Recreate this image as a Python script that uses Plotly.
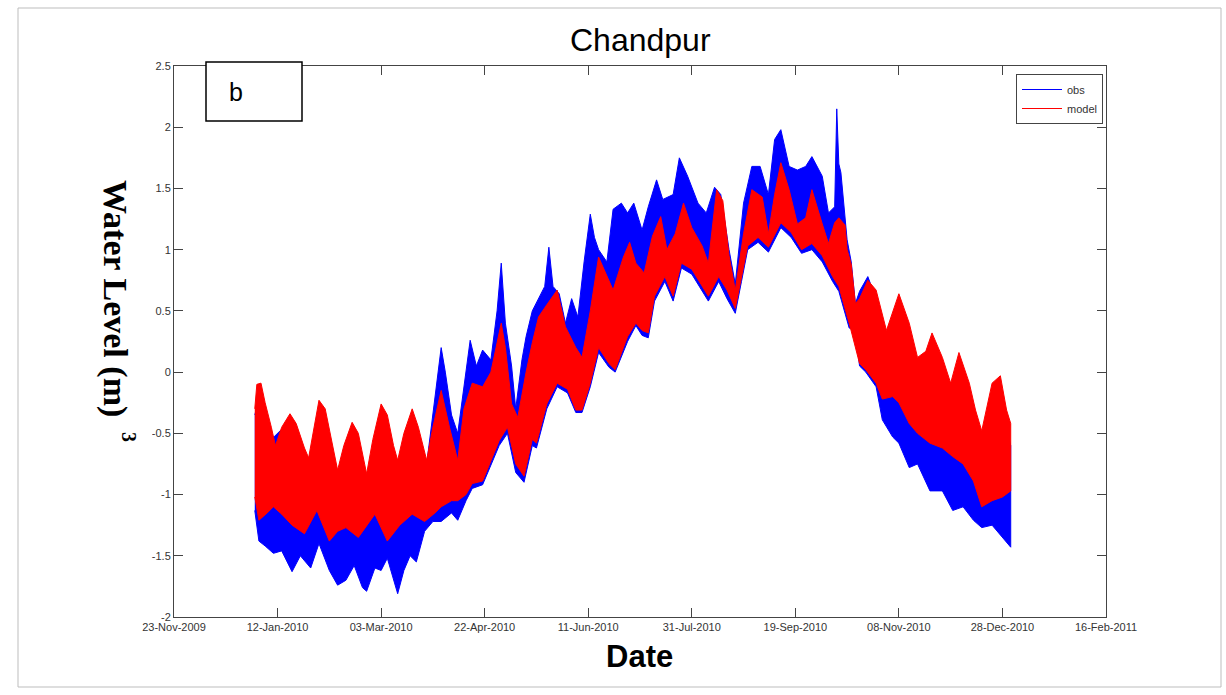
import datetime as dt
import plotly.graph_objects as go

# ---------------------------------------------------------------------------
# Chandpur water level (m), hourly record for 2010 shown as its tidal envelope.
# Days are counted from 1 Jan 2010.
# ---------------------------------------------------------------------------
START = dt.datetime(2010, 1, 1)

obs_high_day = [0, 3, 8, 17, 26, 31, 40, 47, 54, 61, 69, 76, 83, 88, 90, 92, 95, 98,
                101, 104, 107, 110, 114, 117, 119, 121, 124, 126, 129, 131, 134, 137,
                140, 142, 144, 147, 150, 153, 156, 159, 162, 164, 166, 170, 173, 177,
                180, 183, 187, 190, 194, 197, 202, 205, 209, 214, 218, 222, 225, 229,
                232, 236, 240, 244, 248, 251, 254, 258, 262, 266, 269, 274, 277, 280,
                281, 282, 283, 286, 288, 290, 292, 296, 300, 305, 311, 316, 320, 324,
                327, 332, 336, 340, 345, 348, 351, 356, 360, 363, 365]
obs_high = [-0.35, -0.15, -0.55, -0.40, -0.75, -0.30, -0.85, -0.45, -0.88, -0.30, -0.78,
            -0.35, -0.75, -0.10, 0.20, 0.00, -0.35, -0.50, -0.10, 0.26, 0.05, 0.18, 0.10,
            0.50, 0.89, 0.40, 0.05, -0.30, 0.10, 0.29, 0.50, 0.60, 0.70, 1.02, 0.70, 0.64,
            0.40, 0.60, 0.45, 0.90, 1.29, 1.10, 1.00, 0.90, 1.33, 1.38, 1.30, 1.38, 1.16,
            1.35, 1.57, 1.41, 1.45, 1.75, 1.60, 1.38, 1.30, 1.51, 1.45, 1.00, 0.72, 1.38,
            1.68, 1.68, 1.45, 1.90, 1.98, 1.68, 1.65, 1.68, 1.76, 1.60, 1.30, 1.35, 2.15,
            1.70, 1.63, 1.08, 0.90, 0.56, 0.66, 0.78, 0.60, 0.25, 0.50, 0.25, 0.00, 0.05,
            0.20, 0.00, -0.20, 0.05, -0.20, -0.45, -0.60, -0.25, -0.20, -0.45, -0.60]

obs_low_day = [0, 2, 5, 9, 13, 18, 22, 27, 31, 36, 40, 44, 48, 52, 54, 58, 61, 64, 69,
               72, 75, 78, 82, 86, 90, 95, 98, 102, 105, 110, 114, 118, 122, 126, 130,
               134, 136, 141, 146, 151, 155, 158, 162, 166, 171, 174, 180, 184, 187, 190,
               193, 198, 202, 206, 211, 216, 219, 224, 228, 232, 235, 238, 243, 248, 254,
               259, 264, 269, 274, 279, 282, 287, 290, 292, 295, 300, 303, 308, 311, 316,
               320, 326, 332, 337, 342, 347, 351, 356, 361, 365]
obs_low = [-1.13, -1.38, -1.42, -1.48, -1.46, -1.63, -1.50, -1.60, -1.40, -1.62, -1.74,
           -1.70, -1.58, -1.76, -1.79, -1.60, -1.62, -1.52, -1.81, -1.62, -1.50, -1.55,
           -1.30, -1.22, -1.22, -1.15, -1.21, -1.05, -0.95, -0.92, -0.76, -0.60, -0.50,
           -0.82, -0.90, -0.60, -0.62, -0.30, -0.12, -0.17, -0.33, -0.33, -0.12, 0.16,
           0.04, 0.00, 0.25, 0.38, 0.30, 0.28, 0.58, 0.74, 0.58, 0.85, 0.80, 0.66, 0.58,
           0.74, 0.60, 0.48, 0.74, 1.00, 1.06, 0.98, 1.18, 1.10, 0.97, 1.00, 0.90, 0.74,
           0.66, 0.36, 0.34, 0.05, 0.00, -0.12, -0.39, -0.53, -0.58, -0.78, -0.75, -0.97,
           -0.97, -1.13, -1.10, -1.21, -1.27, -1.25, -1.35, -1.43]

model_high_day = [0, 1, 3, 5, 8, 10, 13, 17, 20, 24, 26, 29, 31, 34, 37, 40, 43, 47, 50,
                  54, 57, 61, 64, 67, 69, 72, 76, 79, 83, 86, 90, 94, 98, 101, 105, 110,
                  114, 119, 121, 124, 127, 131, 134, 137, 141, 146, 150, 155, 158, 162,
                  166, 170, 173, 178, 181, 184, 188, 192, 196, 199, 203, 207, 211, 216,
                  219, 223, 226, 229, 232, 236, 240, 245, 248, 251, 254, 258, 262, 266,
                  269, 274, 277, 280, 282, 285, 286, 288, 290, 292, 296, 300, 305, 311,
                  316, 320, 324, 327, 332, 336, 340, 345, 348, 351, 356, 360, 363, 365]
model_high = [-0.30, -0.10, -0.09, -0.25, -0.45, -0.60, -0.45, -0.34, -0.42, -0.62, -0.70,
              -0.40, -0.23, -0.30, -0.55, -0.80, -0.60, -0.41, -0.50, -0.83, -0.55, -0.26,
              -0.35, -0.60, -0.72, -0.50, -0.30, -0.45, -0.72, -0.45, -0.15, -0.45, -0.72,
              -0.30, -0.09, -0.12, 0.00, 0.40, 0.20, -0.26, -0.37, 0.00, 0.24, 0.45, 0.55,
              0.67, 0.37, 0.20, 0.12, 0.50, 0.94, 0.79, 0.67, 0.94, 1.06, 0.89, 0.81, 1.11,
              1.27, 1.00, 1.13, 1.38, 1.18, 1.03, 0.89, 1.49, 1.40, 0.95, 0.67, 1.13, 1.49,
              1.43, 1.13, 1.45, 1.71, 1.49, 1.21, 1.26, 1.49, 1.21, 1.05, 1.22, 1.26, 1.20,
              1.00, 0.88, 0.56, 0.60, 0.75, 0.67, 0.34, 0.64, 0.40, 0.12, 0.17, 0.32, 0.12,
              -0.09, 0.16, -0.09, -0.31, -0.48, -0.09, -0.03, -0.31, -0.42]

model_low_day = [0, 2, 6, 9, 13, 18, 24, 30, 36, 40, 44, 50, 54, 58, 64, 70, 76, 82, 87,
                 90, 95, 98, 102, 105, 110, 114, 118, 122, 126, 130, 134, 136, 141, 146,
                 151, 155, 158, 162, 166, 171, 174, 180, 184, 187, 190, 193, 198, 202,
                 206, 211, 216, 219, 224, 228, 232, 235, 238, 243, 248, 254, 259, 264,
                 269, 274, 279, 282, 287, 292, 295, 300, 303, 308, 311, 316, 320, 326,
                 332, 337, 342, 347, 351, 356, 361, 365]
model_low = [-1.02, -1.21, -1.15, -1.10, -1.16, -1.25, -1.32, -1.13, -1.38, -1.30, -1.27,
             -1.35, -1.25, -1.16, -1.38, -1.25, -1.16, -1.22, -1.15, -1.10, -1.05, -1.05,
             -1.00, -0.91, -0.89, -0.72, -0.56, -0.45, -0.75, -0.85, -0.55, -0.58, -0.26,
             -0.09, -0.14, -0.31, -0.31, -0.09, 0.20, 0.07, 0.02, 0.29, 0.40, 0.34, 0.32,
             0.62, 0.78, 0.62, 0.89, 0.84, 0.70, 0.62, 0.78, 0.67, 0.52, 0.78, 1.03, 1.10,
             1.02, 1.22, 1.14, 1.00, 1.05, 0.95, 0.78, 0.70, 0.40, 0.07, 0.02, -0.09, -0.22,
             -0.20, -0.25, -0.42, -0.50, -0.58, -0.62, -0.69, -0.75, -0.89, -1.10, -1.05,
             -1.02, -0.97]

tick_dates = ["2009-11-23", "2010-01-12", "2010-03-03", "2010-04-22", "2010-06-11",
              "2010-07-31", "2010-09-19", "2010-11-08", "2010-12-28", "2011-02-16"]
y_ticks = [2.5, 2, 1.5, 1, 0.5, 0, -0.5, -1, -1.5, -2]
y_tick_text = ["2.5", "2", "1.5", "1", "0.5", "0", "-0.5", "-1", "-1.5", "-2"]

# ---------------------------------------------------------------------------
W, H = 1226, 695
L, R, T, B = 174, 1106, 66, 617          # plot-area edges in pixels


def px(x):
    return (x - L) / (R - L)


def py(y):
    return (B - y) / (B - T)


def to_dates(days):
    return [START + dt.timedelta(days=d) for d in days]


def band(hi_day, hi, lo_day, lo, colour):
    xs = to_dates(hi_day) + to_dates(lo_day)[::-1]
    ys = list(hi) + list(lo)[::-1]
    return go.Scatter(x=xs, y=ys, mode="lines", fill="toself", fillcolor=colour,
                      line=dict(color=colour, width=1), hoverinfo="skip",
                      showlegend=False)


fig = go.Figure()
fig.add_trace(band(obs_high_day, obs_high, obs_low_day, obs_low, "#0000FF"))
fig.add_trace(band(model_high_day, model_high, model_low_day, model_low, "#FF0000"))
fig.add_trace(go.Scatter(x=[None], y=[None], mode="lines", name="obs",
                         line=dict(color="#0000FF", width=1)))
fig.add_trace(go.Scatter(x=[None], y=[None], mode="lines", name="model",
                         line=dict(color="#FF0000", width=1)))

tick_dt = [dt.datetime.strptime(s, "%Y-%m-%d") for s in tick_dates]
tick_txt = [d.strftime("%d-%b-%Y") for d in tick_dt]

tick_font = dict(family="Liberation Sans, Arial", size=11, color="#333")
axis_common = dict(showline=True, linecolor="#444", linewidth=1, mirror="ticks",
                   ticks="inside", ticklen=9, tickcolor="#444", showgrid=False,
                   zeroline=False, tickfont=tick_font)

fig.update_xaxes(type="date", range=[tick_dt[0], tick_dt[-1]], tickvals=tick_dt,
                 ticktext=tick_txt, **axis_common)
fig.update_yaxes(range=[-2, 2.5], tickvals=y_ticks, ticktext=y_tick_text, **axis_common)

fig.update_layout(
    width=W, height=H,
    margin=dict(l=L, r=W - R, t=T, b=H - B, pad=0),
    paper_bgcolor="white", plot_bgcolor="white",
    font=dict(family="Liberation Sans, Arial"),
    legend=dict(x=px(1016), y=py(74), xanchor="left", yanchor="top",
                bgcolor="white", bordercolor="#444", borderwidth=1, itemwidth=40,
                font=dict(family="Liberation Sans, Arial", size=11, color="#333"),
                tracegroupgap=0),
    shapes=[
        # outer frame of the figure
        dict(type="rect", xref="paper", yref="paper", x0=px(18), x1=px(1221),
             y0=py(687), y1=py(8), line=dict(color="#bdbdbd", width=1), layer="above"),
        # white panel behind the y label
        dict(type="rect", xref="paper", yref="paper", x0=px(95), x1=px(152),
             y0=py(445), y1=py(180), fillcolor="white", line=dict(width=0),
             layer="above"),
        # panel tag box
        dict(type="rect", xref="paper", yref="paper", x0=px(206), x1=px(302),
             y0=py(121), y1=py(62), fillcolor="white",
             line=dict(color="black", width=1.5), layer="above"),
    ],
    annotations=[
        dict(text="Chandpur", xref="paper", yref="paper", x=px(640), y=py(40),
             showarrow=False, xanchor="center", yanchor="middle",
             font=dict(family="Liberation Sans, Arial", size=32, color="black")),
        dict(text="<b>Date</b>", xref="paper", yref="paper", x=px(639), y=py(656),
             showarrow=False, xanchor="center", yanchor="middle",
             font=dict(family="Liberation Sans, Arial", size=31, color="black")),
        dict(text="<b>Water Level (m)</b>", xref="paper", yref="paper", x=px(115),
             y=py(298), showarrow=False, textangle=90, xanchor="center",
             yanchor="middle",
             font=dict(family="Liberation Serif, Times New Roman", size=34,
                       color="black")),
        dict(text="<b>3</b>", xref="paper", yref="paper", x=px(129), y=py(437),
             showarrow=False, textangle=90, xanchor="center", yanchor="middle",
             font=dict(family="Liberation Serif, Times New Roman", size=20,
                       color="black")),
        dict(text="b", xref="paper", yref="paper", x=px(227), y=py(92),
             showarrow=False, xanchor="left", yanchor="middle",
             font=dict(family="Liberation Sans, Arial", size=25, color="black")),
    ],
)

fig.write_html("out.html")
